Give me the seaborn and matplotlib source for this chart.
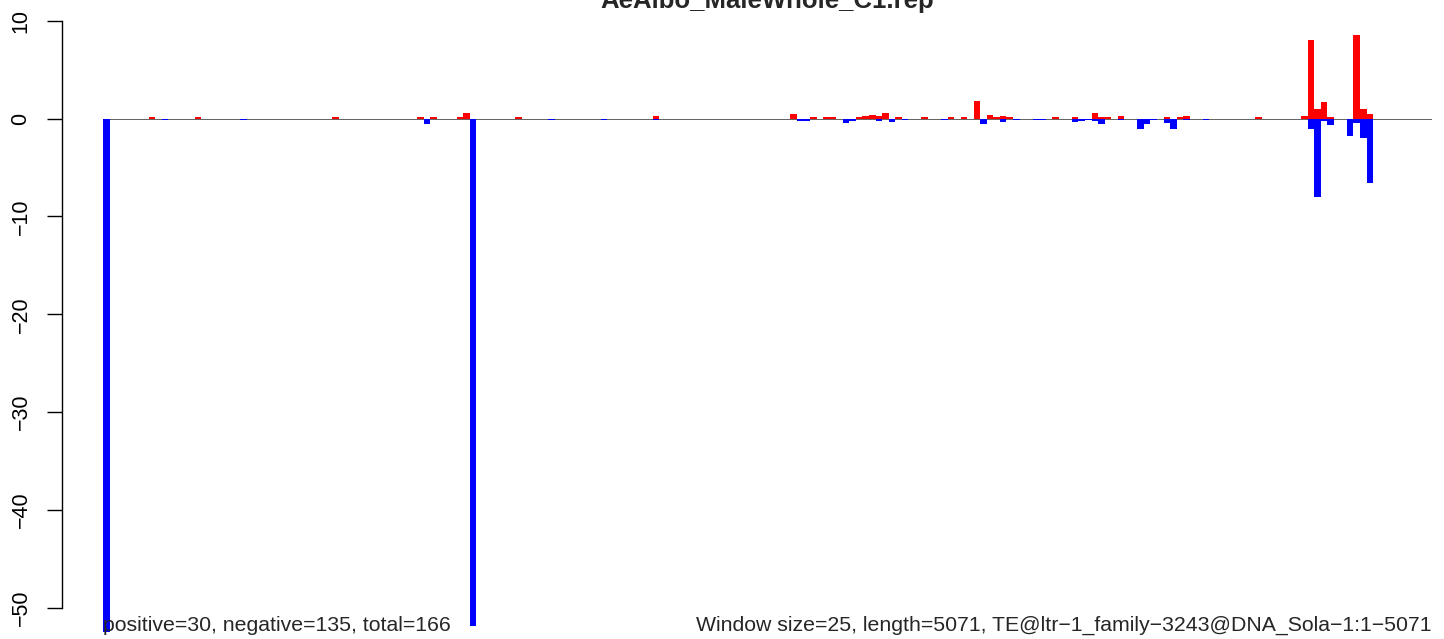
import matplotlib
matplotlib.use("Agg")
import matplotlib.pyplot as plt
import numpy as np
import pandas as pd
import seaborn as sns

TITLE = "AeAlbo_MaleWhole_C1.rep"
LEFT_NOTE = "positive=30, negative=135, total=166"
RIGHT_NOTE = "Window size=25, length=5071, TE@ltr\u22121_family\u22123243@DNA_Sola\u22121:1\u22125071"
N_WINDOWS = 203

# window index -> value
pos_windows = [7, 14, 35, 48, 50, 54, 55, 63, 84, 105, 108, 110, 111, 115, 116, 117,
               118, 119, 121, 125, 129, 131, 133, 135, 136, 137, 138, 145, 148, 151,
               152, 153, 155, 162, 164, 165, 176, 183, 184, 185, 186, 187, 191, 192, 193]
pos_values = [0.12, 0.12, 0.12, 0.12, 0.12, 0.12, 0.55, 0.12, 0.25, 0.45, 0.12, 0.12,
              0.12, 0.12, 0.25, 0.35, 0.25, 0.55, 0.15, 0.15, 0.12, 0.15, 1.8, 0.35,
              0.12, 0.25, 0.15, 0.12, 0.12, 0.55, 0.15, 0.12, 0.27, 0.17, 0.12, 0.27,
              0.12, 0.25, 8.0, 1.0, 1.66, 0.14, 8.5, 1.0, 0.5]

neg_windows = [0, 9, 21, 49, 56, 68, 76, 84, 106, 107, 113, 114, 118, 120, 122, 128,
               134, 137, 139, 142, 143, 148, 149, 150, 151, 152, 155, 158, 159, 160,
               162, 163, 165, 168, 184, 185, 186, 187, 190, 191, 192, 193]
neg_values = [-52.5, -0.14, -0.14, -0.55, -51.8, -0.2, -0.14, -0.14, -0.25, -0.25, -0.5,
              -0.25, -0.25, -0.35, -0.14, -0.14, -0.55, -0.35, -0.15, -0.14, -0.15,
              -0.35, -0.25, -0.14, -0.22, -0.55, -0.14, -1.05, -0.55, -0.14, -0.45,
              -1.05, -0.14, -0.14, -1.05, -8.0, -0.3, -0.7, -1.8, -0.45, -2.0, -6.6]

W, H = 1444, 639
DPI = 100
PX = 72 / DPI  # points per pixel


def build_frame() -> pd.DataFrame:
    pos = np.zeros(N_WINDOWS)
    neg = np.zeros(N_WINDOWS)
    pos[pos_windows] = pos_values
    neg[neg_windows] = neg_values
    idx = np.arange(N_WINDOWS)
    return pd.concat([
        pd.DataFrame({"window": idx, "value": pos, "strand": "pos"}),
        pd.DataFrame({"window": idx, "value": neg, "strand": "neg"}),
    ], ignore_index=True)


def main() -> None:
    sns.set_theme(style="white")
    plt.rcParams["font.family"] = ["Liberation Sans", "DejaVu Sans"]

    frame = build_frame()
    fig = plt.figure(figsize=(W / DPI, H / DPI), dpi=DPI)
    left, right = 103, 1432
    ax = fig.add_axes([left / W, 0, (right - left) / W, 1])

    # zero line sits under the bars, tiny bars show as coloured dashes on it
    ax.axhline(0, color="#666666", lw=1.0 * PX, antialiased=False, zorder=0.5)
    sns.barplot(data=frame, x="window", y="value", hue="strand", dodge=False,
                native_scale=True, width=1, errorbar=None, saturation=1,
                palette={"pos": "#ff0000", "neg": "#0000ff"}, legend=False,
                linewidth=0, antialiased=False, ax=ax, zorder=2)

    zero_px, unit_px = 118.5, 9.79
    ax.set_ylim(-(H - zero_px) / unit_px, zero_px / unit_px)
    ax.set_xlim(-0.5, N_WINDOWS - 0.5)

    for side in ["top", "right", "bottom"]:
        ax.spines[side].set_visible(False)
    ax.spines["left"].set_position(("outward", (left - 62.4) * PX))
    ax.spines["left"].set_bounds(-50, 10)
    ax.spines["left"].set_color("black")
    ax.spines["left"].set_linewidth(1.4 * PX)
    ax.set_xticks([])
    ax.set_yticks(np.arange(-50, 11, 10))
    ax.tick_params(axis="y", left=True, length=15.5 * PX, width=1.4 * PX, color="black",
                   labelsize=15.5, pad=11, labelrotation=90, labelcolor="black")
    for lab in ax.get_yticklabels():
        lab.set_va("center")
    ax.set_xlabel("")
    ax.set_ylabel("")
    ax.grid(False)
    ax.patch.set_alpha(0)

    fig.text((left + right) / 2 / W, 1 - 8 / H, TITLE, ha="center", va="baseline",
             fontsize=18.5, fontweight="bold")
    fig.text(left / W, 1 - 631 / H, LEFT_NOTE, ha="left", va="baseline", fontsize=15.3)
    fig.text(right / W, 1 - 631 / H, RIGHT_NOTE, ha="right", va="baseline", fontsize=15.3)

    fig.savefig("out.png", dpi=DPI)
    plt.close(fig)


if __name__ == "__main__":
    main()
